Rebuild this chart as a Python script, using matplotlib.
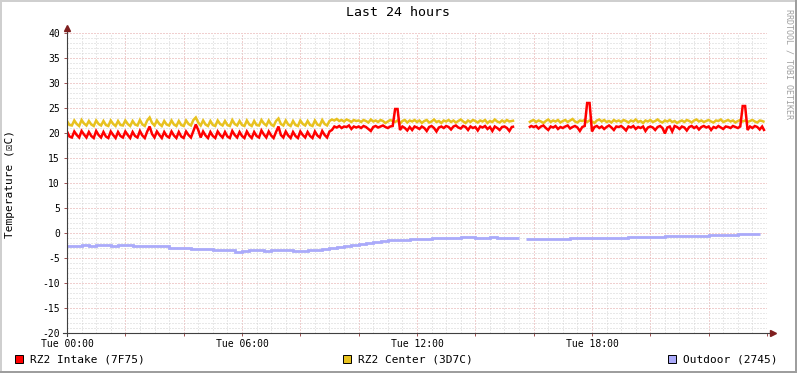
import numpy as np
import matplotlib.pyplot as plt
from matplotlib.patches import Rectangle
from matplotlib.ticker import MultipleLocator

nan = float('nan')

# RZ2 Intake, 5 minute samples, one row per hour
intake = [
    20.3, 19.3, 19.1, 20.3, 19.6, 19.1, 20.4, 19.7, 19.1, 20.2, 19.4, 19.0,
    20.4, 19.6, 19.1, 20.2, 19.3, 19.0, 20.3, 19.6, 19.0, 20.2, 19.4, 19.1,
    20.3, 19.6, 19.0, 20.2, 19.4, 19.1, 20.4, 19.5, 19.0, 20.3, 21.3, 19.8,
    19.1, 20.3, 19.6, 19.0, 20.2, 19.4, 19.1, 20.3, 19.5, 19.0, 20.2, 19.3,
    19.0, 20.3, 19.6, 19.1, 20.4, 21.7, 20.6, 19.1, 20.3, 19.5, 19.0, 20.2,
    19.4, 19.0, 20.3, 19.6, 19.1, 20.2, 19.3, 19.0, 20.4, 19.6, 19.1, 20.2,
    19.4, 19.0, 20.3, 19.5, 19.0, 20.2, 19.4, 19.1, 20.5, 19.7, 19.1, 20.3,
    19.5, 19.0, 20.2, 21.3, 19.6, 19.1, 20.3, 19.5, 19.0, 20.2, 19.4, 19.0,
    20.3, 19.6, 19.1, 20.2, 19.4, 19.0, 20.3, 19.5, 19.1, 20.4, 19.6, 19.1,
    20.3, 20.6, 21.3, 21.1, 21.4, 21.0, 21.3, 21.2, 21.5, 20.8, 21.3, 21.1,
    21.3, 21.0, 21.4, 21.2, 20.8, 20.4, 21.2, 21.4, 21.1, 21.3, 21.5, 21.2,
    21.0, 21.3, 21.4, 24.8, 24.8, 20.6, 21.3, 21.0, 20.5, 21.2, 20.6, 21.3,
    21.1, 20.8, 21.3, 21.0, 20.4, 21.2, 21.4, 21.0, 20.3, 21.1, 21.3, 21.0,
    21.4, 21.2, 20.7, 21.3, 21.5, 21.1, 20.9, 21.4, 21.2, 20.6, 21.3, 21.0,
    21.2, 20.5, 21.3, 21.1, 21.4, 20.8, 21.2, 20.4, 21.3, 21.0, 20.6, 21.2,
    21.3, 21.0, 20.4, 21.2, 21.3, nan, nan, nan, nan, nan, 21.1, 21.4,
    21.2, 21.4, 20.9, 21.3, 21.5, 21.0, 20.6, 21.3, 21.1, 21.4, 20.8, 21.2,
    21.0, 21.3, 21.5, 20.9, 21.2, 21.4, 21.1, 20.4, 21.2, 21.4, 26.0, 26.0,
    20.3, 21.2, 21.4, 21.0, 21.3, 20.8, 21.2, 21.5, 21.1, 20.6, 21.3, 21.2,
    21.4, 21.0, 20.5, 21.3, 21.1, 21.4, 20.8, 21.2, 21.0, 21.3, 20.4, 21.1,
    21.3, 21.1, 20.6, 21.2, 21.4, 21.0, 19.9, 21.1, 21.3, 20.3, 21.4, 21.2,
    20.8, 21.3, 21.1, 20.5, 21.2, 21.4, 21.0, 21.3, 20.7, 21.2, 21.4, 21.1,
    21.3, 20.6, 21.2, 21.0, 21.4, 21.1, 20.8, 21.3, 21.2, 21.0, 21.4, 21.2,
    21.0, 21.3, 25.4, 25.4, 20.6, 21.3, 21.0, 21.4, 21.2, 20.7, 21.3, 20.4,
]

# RZ2 Center, 5 minute samples
center = [
    22.4, 21.6, 21.5, 22.5, 21.8, 21.4, 22.6, 21.9, 21.5, 22.4, 21.7, 21.4,
    22.5, 21.8, 21.5, 22.4, 21.6, 21.4, 22.5, 21.8, 21.4, 22.4, 21.6, 21.5,
    22.5, 21.8, 21.4, 22.4, 21.7, 21.5, 22.6, 21.7, 21.4, 22.5, 23.1, 22.0,
    21.5, 22.5, 21.8, 21.4, 22.4, 21.7, 21.5, 22.5, 21.7, 21.4, 22.4, 21.6,
    21.4, 22.5, 21.8, 21.5, 22.6, 23.1, 22.1, 21.5, 22.5, 21.7, 21.4, 22.4,
    21.6, 21.4, 22.5, 21.8, 21.5, 22.4, 21.6, 21.4, 22.6, 21.8, 21.5, 22.4,
    21.6, 21.4, 22.5, 21.7, 21.4, 22.4, 21.6, 21.5, 22.6, 21.9, 21.5, 22.5,
    21.7, 21.4, 22.4, 22.9, 21.8, 21.5, 22.5, 21.7, 21.4, 22.4, 21.6, 21.4,
    22.5, 21.8, 21.5, 22.4, 21.6, 21.4, 22.5, 21.7, 21.5, 22.6, 21.8, 21.5,
    22.4, 22.7, 22.5, 22.8, 22.4, 22.6, 22.3, 22.7, 22.5, 22.2, 22.6, 22.4,
    22.5, 22.2, 22.6, 22.4, 22.1, 22.7, 22.3, 22.5, 22.2, 22.6, 22.4, 22.0,
    22.3, 22.6, 22.4, 22.2, 22.5, 21.9, 22.4, 22.6, 22.1, 22.5, 22.3, 22.6,
    22.2, 22.5, 22.0, 22.4, 22.6, 22.1, 22.3, 22.7, 22.2, 22.4, 22.0, 22.5,
    22.3, 22.6, 22.2, 22.5, 22.1, 22.4, 22.7, 22.3, 22.0, 22.5, 22.2, 22.6,
    22.4, 22.1, 22.5, 22.3, 22.6, 22.0, 22.4, 22.2, 22.7, 22.3, 22.1, 22.5,
    22.2, 22.6, 22.3, 22.4, 22.5, nan, nan, nan, nan, nan, 22.1, 22.4,
    22.6, 22.2, 22.5, 22.3, 22.0, 22.4, 22.7, 22.2, 22.5, 22.3, 22.6, 22.1,
    22.4, 22.6, 22.2, 22.5, 22.8, 22.3, 22.1, 22.5, 22.4, 22.6, 22.2, 22.5,
    22.3, 22.0, 22.5, 22.7, 22.3, 22.6, 22.2, 22.4, 22.1, 22.6, 22.3, 22.5,
    22.2, 22.6, 22.4, 22.1, 22.5, 22.3, 22.7, 22.2, 22.4, 22.0, 22.5, 22.3,
    22.6, 22.2, 22.4, 22.7, 22.3, 22.1, 22.5, 22.3, 22.6, 22.2, 22.4, 22.0,
    22.3, 22.5, 22.2, 22.6, 22.4, 22.1, 22.5, 22.7, 22.3, 22.5, 22.2, 22.4,
    22.6, 22.3, 22.1, 22.5, 22.4, 22.7, 22.2, 22.4, 22.6, 22.3, 22.5, 22.1,
    22.4, 22.6, 22.3, 22.5, 22.2, 22.4, 22.6, 22.3, 22.1, 22.5, 22.4, 22.2,
]

# Outdoor, 15 minute samples
outdoor = [
    -2.5, -2.5, -2.4, -2.5,
    -2.4, -2.4, -2.5, -2.4,
    -2.4, -2.5, -2.5, -2.5,
    -2.5, -2.6, -2.9, -3.0,
    -3.0, -3.2, -3.2, -3.1,
    -3.3, -3.4, -3.4, -3.7,
    -3.5, -3.4, -3.4, -3.5,
    -3.4, -3.4, -3.3, -3.6,
    -3.5, -3.4, -3.3, -3.1,
    -2.9, -2.8, -2.6, -2.4,
    -2.1, -1.9, -1.7, -1.6,
    -1.4, -1.4, -1.3, -1.2,
    -1.2, -1.1, -1.0, -0.9,
    -0.9, -0.9, -0.8, -0.8,
    -0.9, -0.9, -0.8, -0.9,
    -0.9, -0.9, nan, -1.2,
    -1.2, -1.2, -1.2, -1.1,
    -1.1, -1.0, -1.0, -1.0,
    -0.9, -0.9, -0.9, -0.9,
    -0.9, -0.8, -0.8, -0.8,
    -0.7, -0.7, -0.6, -0.6,
    -0.6, -0.5, -0.5, -0.5,
    -0.4, -0.4, -0.3, -0.3,
    -0.2, -0.2, -0.1, -0.2,
]

hour_ticks = [0, 6, 12, 18]
hour_labels = ['Tue 00:00', 'Tue 06:00', 'Tue 12:00', 'Tue 18:00']
y_ticks = [-20, -15, -10, -5, 0, 5, 10, 15, 20, 25, 30, 35, 40]
names = ['RZ2 Intake (7F75)', 'RZ2 Center (3D7C)', 'Outdoor (2745)']
colors = ['#ff0000', '#e8c21f', '#aaaafa']

W, H = 797, 373
plt.rcParams['font.family'] = ['DejaVu Sans Mono', 'DejaVu Sans']


def fx(x):
    return x / W


def fy(y):
    return 1 - y / H


fig = plt.figure(figsize=(W / 100, H / 100), dpi=100)
fig.patch.set_facecolor('white')
ax = fig.add_axes([fx(67), fy(333), 700 / W, 300 / H])
ax.set_xlim(0, 24)
ax.set_ylim(-20, 40)
for s in ax.spines.values():
    s.set_visible(False)

# grid
major_x = list(range(0, 25, 2))
ax.set_xticks(major_x)
ax.set_xticklabels([hour_labels[hour_ticks.index(h)] if h in hour_ticks else '' for h in major_x])
ax.xaxis.set_minor_locator(MultipleLocator(0.5))
ax.set_yticks(y_ticks)
ax.set_yticklabels([str(v) for v in y_ticks])
ax.yaxis.set_minor_locator(MultipleLocator(1))
ax.grid(which='minor', color='#d2d2d2', linestyle=(0, (1, 2)), lw=0.72)
ax.grid(which='major', color='#e2a0a0', linestyle=(0, (1, 2)), lw=0.72)
ax.set_axisbelow(True)
ax.tick_params(which='minor', length=0)
ax.tick_params(which='major', length=2, width=0.7, color='#a05050', labelsize=7)
ax.tick_params(axis='x', pad=2)
ax.tick_params(axis='y', pad=3)

t5 = np.arange(len(intake)) * 5 / 60
t15 = np.arange(len(outdoor)) * 0.25
kw = dict(solid_joinstyle='miter', solid_capstyle='butt')
ax.plot(t15, outdoor, color=colors[2], lw=2.0, drawstyle='steps-post', **kw)
ax.plot(t5[:len(center)], center, color=colors[1], lw=1.8, **kw)
ax.plot(t5, intake, color=colors[0], lw=1.8, **kw)

# axes with arrow heads
ax.plot([0, 0], [-20.6, 40.6], color='#404040', lw=0.8, clip_on=False)
ax.plot([-0.15, 24.1], [-20, -20], color='#404040', lw=0.8, clip_on=False)
ax.plot([0], [41.0], marker='^', ms=4, color='#7f1f1f', clip_on=False)
ax.plot([24.2], [-20], marker='>', ms=4, color='#7f1f1f', clip_on=False)

fig.text(fx(398), fy(13), 'Last 24 hours', ha='center', va='center', fontsize=9.5)
fig.text(fx(10), fy(184), 'Temperature (\u2612C)', rotation=90, ha='center', va='center', fontsize=8)
fig.text(fx(789), fy(64), 'RRDTOOL / TOBI OETIKER', rotation=270, ha='center', va='center',
         fontsize=6, color='#a0a0a0')

# legend
for x0, name, c in zip([15, 343, 668], names, colors):
    fig.add_artist(Rectangle((fx(x0), fy(363)), 8 / W, 8 / H, transform=fig.transFigure,
                             facecolor=c, edgecolor='black', lw=0.7))
    fig.text(fx(x0 + 15), fy(359), name, ha='left', va='center', fontsize=8)

# frame
fig.add_artist(Rectangle((0, fy(2)), 1, 2 / H, transform=fig.transFigure, color='#cfcfcf', lw=0))
fig.add_artist(Rectangle((0, 0), 2 / W, 1, transform=fig.transFigure, color='#cfcfcf', lw=0))
fig.add_artist(Rectangle((0, 0), 1, 2 / H, transform=fig.transFigure, color='#9e9e9e', lw=0))
fig.add_artist(Rectangle((fx(795), 0), 2 / W, 1, transform=fig.transFigure, color='#9e9e9e', lw=0))

fig.savefig('out.png', dpi=100)
